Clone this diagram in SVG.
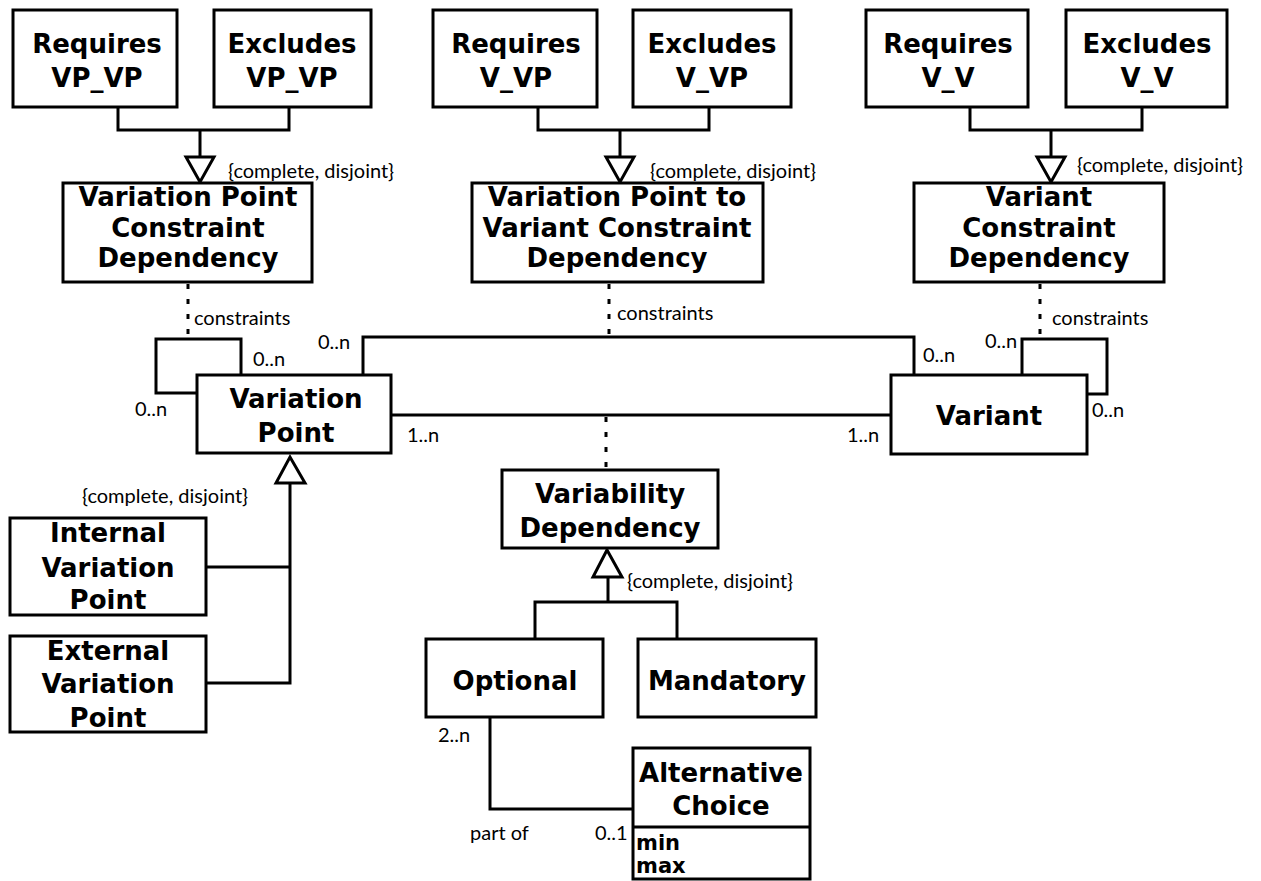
<svg xmlns="http://www.w3.org/2000/svg" width="1261" height="881" viewBox="0 0 1261 881">
  <style>
    .box { fill: #fff; stroke: #000; stroke-width: 3; }
    .line { fill: none; stroke: #000; stroke-width: 3; }
    .dot { fill: none; stroke: #000; stroke-width: 3; stroke-dasharray: 5 10; }
    .tri { fill: #fff; stroke: #000; stroke-width: 3; stroke-linejoin: miter; }
    .name { font-family: "DejaVu Sans", "Liberation Sans", sans-serif; font-weight: bold; font-size: 26px; text-anchor: middle; fill: #000; }
    .attr { font-family: "DejaVu Sans", "Liberation Sans", sans-serif; font-weight: bold; font-size: 21px; fill: #000; }
    .lbl { font-family: "Lato", "Liberation Sans", sans-serif; font-size: 20px; fill: #000; }
  </style>

  <!-- connectors -->
  <g id="connectors">
    <!-- VP_VP constraint generalization -->
    <path class="line" d="M118,107 V130 H289 V107 M200,130 V157"/>
    <polygon class="tri" points="186,157 214,157 200,182"/>
    <!-- V_VP constraint generalization -->
    <path class="line" d="M538,107 V130 H709 V107 M620,130 V157"/>
    <polygon class="tri" points="606,157 634,157 620,182"/>
    <!-- V_V constraint generalization -->
    <path class="line" d="M970,107 V130 H1142 V107 M1051,130 V157"/>
    <polygon class="tri" points="1037,157 1065,157 1051,182"/>

    <!-- association classes (dotted) -->
    <path class="dot" d="M188,284 V339"/>
    <path class="dot" d="M609,284 V337"/>
    <path class="dot" d="M1040,284 V339"/>
    <path class="dot" d="M606,417 V470"/>

    <!-- self associations -->
    <path class="line" d="M197,393 H156 V339 H241 V375"/>
    <path class="line" d="M1022,375 V339 H1107 V394 H1087"/>

    <!-- variation point to variant associations -->
    <path class="line" d="M363,375 V337 H914 V375"/>
    <path class="line" d="M391,415 H891"/>

    <!-- variation point generalization -->
    <path class="line" d="M290,483 V683 H206 M206,567 H290"/>
    <polygon class="tri" points="276,483 305,483 290,457"/>

    <!-- variability dependency generalization -->
    <path class="line" d="M608,577 V602 M535,639 V602 H677 V639"/>
    <polygon class="tri" points="593,577 622,577 607,550"/>

    <!-- optional part of alternative choice -->
    <path class="line" d="M490,717 V809 H633"/>

    <!-- labels -->
    <text class="lbl" x="228" y="178">{complete, disjoint}</text>
    <text class="lbl" x="650" y="178">{complete, disjoint}</text>
    <text class="lbl" x="1077" y="172">{complete, disjoint}</text>
    <text class="lbl" x="194" y="325">constraints</text>
    <text class="lbl" x="617" y="320">constraints</text>
    <text class="lbl" x="1052" y="325">constraints</text>
    <text class="lbl" x="253" y="366">0..n</text>
    <text class="lbl" x="135" y="416">0..n</text>
    <text class="lbl" x="318" y="349">0..n</text>
    <text class="lbl" x="985" y="348">0..n</text>
    <text class="lbl" x="923" y="362">0..n</text>
    <text class="lbl" x="1092" y="417">0..n</text>
    <text class="lbl" x="407" y="442">1..n</text>
    <text class="lbl" x="847" y="442">1..n</text>
    <text class="lbl" x="82" y="503">{complete, disjoint}</text>
    <text class="lbl" x="627" y="588">{complete, disjoint}</text>
    <text class="lbl" x="438" y="742">2..n</text>
    <text class="lbl" x="470" y="840">part of</text>
    <text class="lbl" x="595" y="840">0..1</text>
  </g>

  <!-- top row constraint kinds -->
  <g id="requires-vp-vp">
    <rect class="box" x="13" y="10" width="164" height="97"/>
    <text class="name" x="97" y="53">Requires</text>
    <text class="name" x="97" y="87">VP_VP</text>
  </g>
  <g id="excludes-vp-vp">
    <rect class="box" x="214" y="10" width="157" height="97"/>
    <text class="name" x="292" y="53">Excludes</text>
    <text class="name" x="292" y="87">VP_VP</text>
  </g>
  <g id="requires-v-vp">
    <rect class="box" x="433" y="10" width="164" height="97"/>
    <text class="name" x="516" y="53">Requires</text>
    <text class="name" x="516" y="87">V_VP</text>
  </g>
  <g id="excludes-v-vp">
    <rect class="box" x="633" y="10" width="158" height="97"/>
    <text class="name" x="712" y="53">Excludes</text>
    <text class="name" x="712" y="87">V_VP</text>
  </g>
  <g id="requires-v-v">
    <rect class="box" x="866" y="10" width="162" height="97"/>
    <text class="name" x="948" y="53">Requires</text>
    <text class="name" x="948" y="87">V_V</text>
  </g>
  <g id="excludes-v-v">
    <rect class="box" x="1066" y="10" width="161" height="97"/>
    <text class="name" x="1147" y="53">Excludes</text>
    <text class="name" x="1147" y="87">V_V</text>
  </g>

  <!-- constraint dependencies -->
  <g id="vp-constraint-dependency">
    <rect class="box" x="63" y="183" width="249" height="99"/>
    <text class="name" x="188" y="206">Variation Point</text>
    <text class="name" x="188" y="236.5">Constraint</text>
    <text class="name" x="188" y="267">Dependency</text>
  </g>
  <g id="vp-to-variant-constraint-dependency">
    <rect class="box" x="472" y="183" width="291" height="99"/>
    <text class="name" x="617" y="206">Variation Point to</text>
    <text class="name" x="617" y="236.5">Variant Constraint</text>
    <text class="name" x="617" y="267">Dependency</text>
  </g>
  <g id="variant-constraint-dependency">
    <rect class="box" x="914" y="183" width="250" height="99"/>
    <text class="name" x="1039" y="206">Variant</text>
    <text class="name" x="1039" y="236.5">Constraint</text>
    <text class="name" x="1039" y="267">Dependency</text>
  </g>

  <!-- core classes -->
  <g id="variation-point">
    <rect class="box" x="197" y="375" width="194" height="78"/>
    <text class="name" x="296" y="408">Variation</text>
    <text class="name" x="296" y="442">Point</text>
  </g>
  <g id="variant">
    <rect class="box" x="891" y="375" width="196" height="79"/>
    <text class="name" x="989" y="425">Variant</text>
  </g>
  <g id="variability-dependency">
    <rect class="box" x="502" y="470" width="216" height="78"/>
    <text class="name" x="610" y="503">Variability</text>
    <text class="name" x="610" y="537">Dependency</text>
  </g>

  <!-- variation point kinds -->
  <g id="internal-variation-point">
    <rect class="box" x="10" y="518" width="196" height="97"/>
    <text class="name" x="108" y="542">Internal</text>
    <text class="name" x="108" y="577">Variation</text>
    <text class="name" x="108" y="609">Point</text>
  </g>
  <g id="external-variation-point">
    <rect class="box" x="10" y="636" width="196" height="96"/>
    <text class="name" x="108" y="660">External</text>
    <text class="name" x="108" y="693">Variation</text>
    <text class="name" x="108" y="727">Point</text>
  </g>

  <!-- dependency kinds -->
  <g id="optional">
    <rect class="box" x="426" y="639" width="177" height="78"/>
    <text class="name" x="515" y="690">Optional</text>
  </g>
  <g id="mandatory">
    <rect class="box" x="638" y="639" width="178" height="78"/>
    <text class="name" x="727" y="690">Mandatory</text>
  </g>
  <g id="alternative-choice">
    <rect class="box" x="633" y="748" width="177" height="131"/>
    <line class="line" x1="633" y1="827" x2="810" y2="827"/>
    <text class="name" x="721" y="782">Alternative</text>
    <text class="name" x="721" y="815">Choice</text>
    <text class="attr" x="636" y="850">min</text>
    <text class="attr" x="636" y="873">max</text>
  </g>
</svg>
